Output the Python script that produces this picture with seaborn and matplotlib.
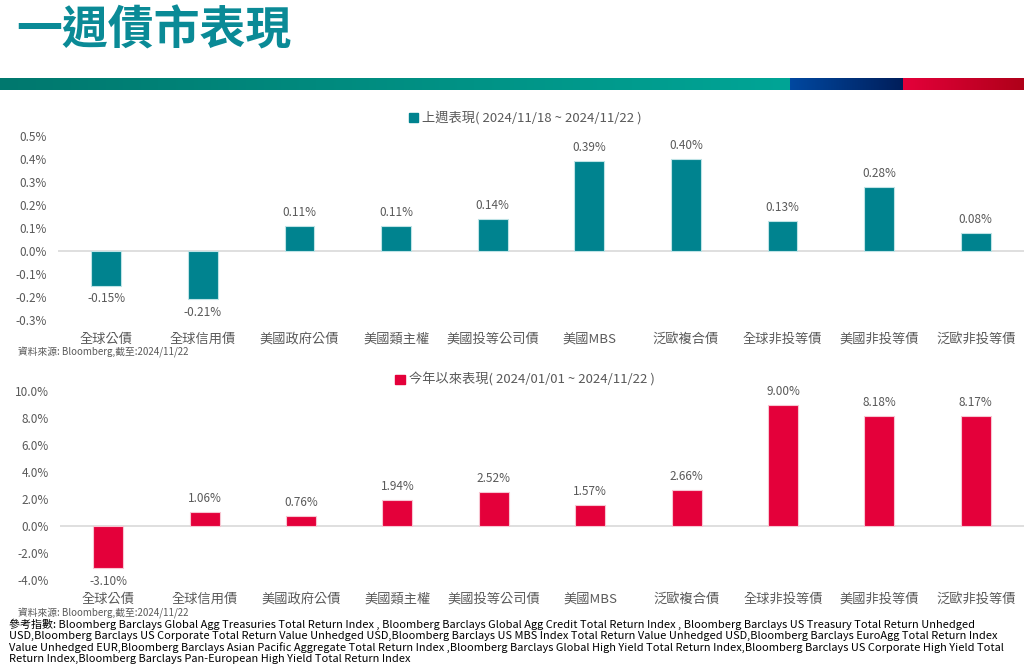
import numpy as np
import pandas as pd
import matplotlib
matplotlib.use("Agg")
import matplotlib.pyplot as plt
import matplotlib.patches as mpatches
import seaborn as sns

categories = ["全球公債", "全球信用債", "美國政府公債", "美國類主權", "美國投等公司債",
              "美國MBS", "泛歐複合債", "全球非投等債", "美國非投等債", "泛歐非投等債"]
week_returns = [-0.15, -0.21, 0.11, 0.11, 0.14, 0.39, 0.40, 0.13, 0.28, 0.08]
ytd_returns = [-3.10, 1.06, 0.76, 1.94, 2.52, 1.57, 2.66, 9.00, 8.18, 8.17]
week_label = "上週表現( 2024/11/18 ~ 2024/11/22 )"
ytd_label = "今年以來表現( 2024/01/01 ~ 2024/11/22 )"
title = "一週債市表現"
source = "資料來源: Bloomberg,截至:2024/11/22"
ref_lines = [
    "參考指數: Bloomberg Barclays Global Agg Treasuries Total Return Index , Bloomberg Barclays Global Agg Credit Total Return Index , Bloomberg Barclays US Treasury Total Return Unhedged",
    "USD,Bloomberg Barclays US Corporate Total Return Value Unhedged USD,Bloomberg Barclays US MBS Index Total Return Value Unhedged USD,Bloomberg Barclays EuroAgg Total Return Index",
    "Value Unhedged EUR,Bloomberg Barclays Asian Pacific Aggregate Total Return Index ,Bloomberg Barclays Global High Yield Total Return Index,Bloomberg Barclays US Corporate High Yield Total",
    "Return Index,Bloomberg Barclays Pan-European High Yield Total Return Index",
]

TEAL = "#00838F"
RED = "#E4003A"
GRAY = "#595959"

sns.set_style("white")
plt.rcParams["font.family"] = ["Noto Sans CJK TC", "DejaVu Sans"]

fig = plt.figure(figsize=(10.24, 6.64), dpi=100)
W, H = 1024, 664

def fx(px):
    return px / W

def fy(py):
    return 1 - py / H

# title
fig.text(fx(16), fy(31), title, fontsize=33, fontweight="bold", color="#0A8A96",
         va="center", ha="left")

# gradient band
band = fig.add_axes([0, fy(90), 1, 12 / H])
band.axis("off")
n = 1024
cols = np.zeros((1, n, 3))
x = np.arange(n)
c_teal0 = np.array([0, 120, 110]) / 255
c_teal1 = np.array([0, 165, 150]) / 255
c_blue0 = np.array([0, 72, 160]) / 255
c_blue1 = np.array([0, 30, 90]) / 255
c_red0 = np.array([228, 0, 58]) / 255
c_red1 = np.array([175, 0, 25]) / 255
for i in x:
    if i < 790:
        t = i / 790
        cols[0, i] = c_teal0 + (c_teal1 - c_teal0) * t
    elif i < 903:
        t = (i - 790) / 113
        cols[0, i] = c_blue0 + (c_blue1 - c_blue0) * t
    else:
        t = (i - 903) / 121
        cols[0, i] = c_red0 + (c_red1 - c_red0) * t
band.imshow(cols, aspect="auto", extent=[0, 1, 0, 1])


def draw_panel(ax, values, color, label, ylim, ticks, tickfmt, legend_y):
    df = pd.DataFrame({"category": categories, "value": values})
    sns.barplot(data=df, x="category", y="value", color=color, width=0.31,
                saturation=1, ax=ax, edgecolor="#BFE3E6" if color == TEAL else "#F7C6D2",
                linewidth=0.8)
    ax.set_ylim(*ylim)
    ax.set_xlim(-0.5, len(categories) - 0.5)
    ax.set_yticks(ticks)
    ax.set_yticklabels([tickfmt % t for t in ticks])
    ax.axhline(0, color="#D9D9D9", lw=1.2, zorder=0)
    ax.set_xlabel("")
    ax.set_ylabel("")
    sns.despine(ax=ax, left=True, bottom=True)
    ax.tick_params(axis="both", length=0, colors=GRAY)
    ax.tick_params(axis="y", labelsize=8.5, pad=8)
    ax.tick_params(axis="x", labelsize=9.5, pad=9)
    for c in ax.containers:
        ax.bar_label(c, labels=["%.2f%%" % v for v in values], padding=5,
                     fontsize=8.5, color=GRAY)
    handle = mpatches.Patch(color=color, label=label)
    fig.legend(handles=[handle], loc="center", bbox_to_anchor=(fx(525), fy(legend_y)),
               frameon=False, fontsize=9.5, handlelength=0.7, handleheight=0.7,
               handletextpad=0.3, labelcolor=GRAY)


ax1 = fig.add_axes([fx(58), fy(320), fx(1024 - 58), (320 - 136) / H])
draw_panel(ax1, week_returns, TEAL, week_label, (-0.3, 0.5),
           [-0.3, -0.2, -0.1, 0.0, 0.1, 0.2, 0.3, 0.4, 0.5], "%.1f%%", 118)

ax2 = fig.add_axes([fx(60), fy(580), fx(1024 - 60), (580 - 391) / H])
draw_panel(ax2, ytd_returns, RED, ytd_label, (-4, 10),
           [-4, -2, 0, 2, 4, 6, 8, 10], "%.1f%%", 380)

fig.text(fx(18), fy(352), source, fontsize=7, color=GRAY, va="center")
fig.text(fx(18), fy(613), source, fontsize=7, color=GRAY, va="center")

for i, line in enumerate(ref_lines):
    fig.text(fx(9), fy(624 + 11.8 * i), line, fontsize=7.95, color="black", va="center",
             family=["Liberation Sans Narrow", "Noto Sans CJK TC", "DejaVu Sans"])

fig.savefig("out.png", dpi=100)
